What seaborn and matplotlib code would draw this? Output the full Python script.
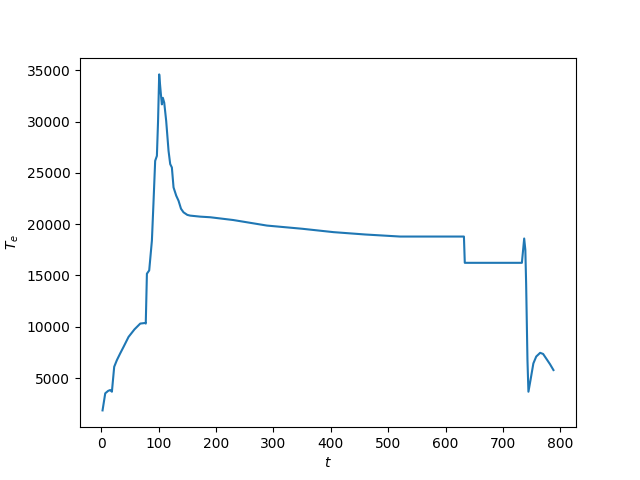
import matplotlib
matplotlib.use("Agg")
import matplotlib.pyplot as plt
import seaborn as sns
import pandas as pd

# time points
t = [2.3, 7, 12, 15.7, 18.6, 22.6, 27.3, 33, 38.9, 47.6, 58, 68, 76.7, 77.6,
     79.6, 83.6, 88.3, 91, 94, 97, 99, 101, 102.5, 104, 105.7, 107.4, 109.8,
     113.2, 117.3, 120.2, 123.1, 126, 130.7, 134.7, 139, 143.4, 150, 155,
     172.5, 190, 230, 288.7, 350, 404.7, 460, 521, 580, 632, 633.5, 690,
     733, 737, 739, 740.4, 741.6, 742.7, 744.4, 748, 753, 758, 764.8, 770,
     776.5, 782, 788]
# electron temperature values
te = [1850, 3515, 3750, 3835, 3670, 6100, 6750, 7400, 8040, 9010, 9750, 10310,
      10370, 10310, 15170, 15490, 18400, 22000, 26170, 26650, 30000, 34590,
      33600, 32640, 31670, 32310, 31830, 30050, 27140, 25850, 25520, 23580,
      22770, 22280, 21500, 21150, 20900, 20830, 20730, 20670, 20400, 19860,
      19550, 19220, 18990, 18790, 18790, 18790, 16230, 16230, 16230, 18600,
      17500, 14190, 10310, 6750, 3670, 4800, 6430, 7100, 7460, 7350, 6810,
      6350, 5780]

df = pd.DataFrame({"t": t, "Te": te})

fig, ax = plt.subplots(figsize=(6.4, 4.8), dpi=100)
sns.lineplot(data=df, x="t", y="Te", ax=ax, sort=False, estimator=None,
             color="#1f77b4", linewidth=1.5)
ax.set_xlabel("$t$")
ax.set_ylabel("$T_e$")
fig.savefig("out.png", dpi=100)
